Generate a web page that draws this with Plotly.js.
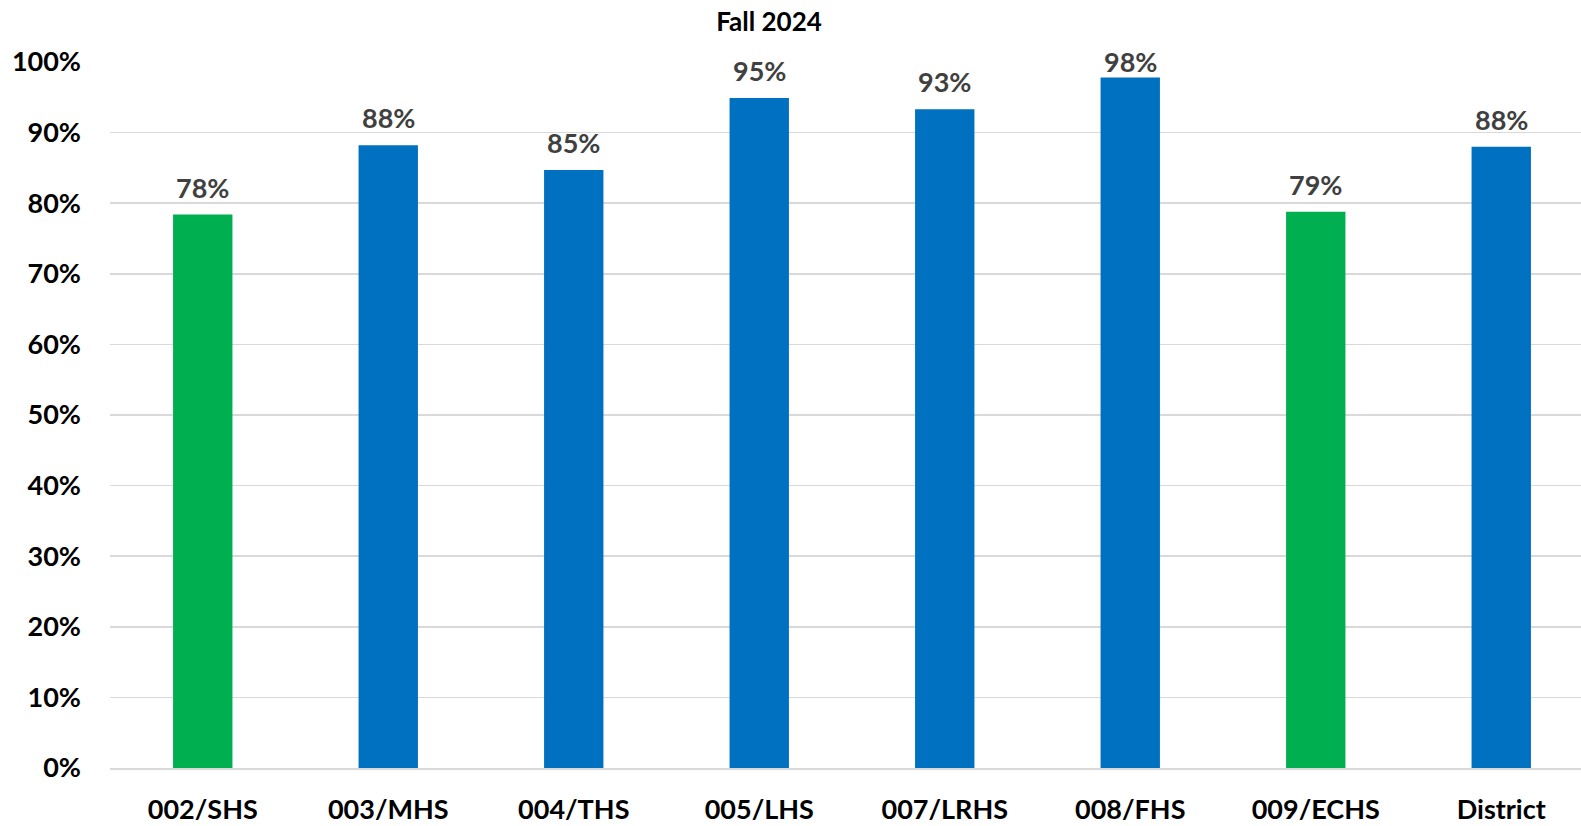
<!DOCTYPE html>
<html>
<head>
<meta charset="utf-8">
<script src="https://cdn.plot.ly/plotly-3.0.1.min.js"></script>
<style>
html,body{margin:0;padding:0;background:#fff;overflow:hidden;}
#wrap{width:1581px;height:826px;overflow:hidden;}
#chart{width:1596px;height:826px;}
</style>
</head>
<body>
<div id="wrap"><div id="chart"></div></div>
<script>
const categories = ["002/SHS","003/MHS","004/THS","005/LHS","007/LRHS","008/FHS","009/ECHS","District"];
const values = [78.4, 88.2, 84.7, 94.9, 93.3, 97.8, 78.8, 88.0];
const labels = ["78%","88%","85%","95%","93%","98%","79%","88%"];
const barColors = ["#00B050","#0070C0","#0070C0","#0070C0","#0070C0","#0070C0","#00B050","#0070C0"];
const yTickVals = [0,10,20,30,40,50,60,70,80,90,100];
const yTickText = ["0%","10%","20%","30%","40%","50%","60%","70%","80%","90%","100%"];

const FONT = "Lato, 'Open Sans', sans-serif";
const MARGIN = {l: 110, r: 2, t: 62, b: 58};
const HEIGHT = 826;
const plotH = HEIGHT - MARGIN.t - MARGIN.b;

const trace = {
  type: "bar",
  x: categories,
  y: values,
  marker: {color: barColors},
  hoverinfo: "x+y"
};

// Labels sit above bars, but (like the source) are kept from rising above the chart area top
const annotations = categories.map((c, i) => ({
  x: c, y: values[i], xref: "x", yref: "y",
  text: "<b>" + labels[i] + "</b>",
  showarrow: false,
  yanchor: "bottom",
  yshift: Math.min(9, (100 - values[i]) * plotH / 100 - 18),
  font: {family: FONT, size: 27, color: "#404040"}
}));

const layout = {
  width: 1596,
  height: HEIGHT,
  paper_bgcolor: "#ffffff",
  plot_bgcolor: "#ffffff",
  margin: MARGIN,
  bargap: 0.68,
  showlegend: false,
  annotations: annotations,
  title: {
    text: "<b>Fall 2024</b>",
    font: {family: FONT, size: 26, color: "#000000"},
    x: 769/1596, xref: "container", xanchor: "center",
    y: 1 - 22/826, yref: "container", yanchor: "middle"
  },
  xaxis: {
    type: "category",
    showgrid: false,
    showline: true,
    linecolor: "#D9D9D9",
    linewidth: 1.5,
    ticks: "",
    tickfont: {family: FONT, size: 27, color: "#000000", weight: 700},
    ticklabelstandoff: 17
  },
  yaxis: {
    range: [0, 100],
    tickvals: yTickVals,
    ticktext: yTickText,
    showgrid: true,
    gridcolor: "#D9D9D9",
    gridwidth: 1.5,
    zeroline: false,
    showline: false,
    ticks: "",
    tickfont: {family: FONT, size: 27, color: "#000000", weight: 700},
    ticklabelstandoff: 28
  }
};

Plotly.newPlot("chart", [trace], layout, {displayModeBar: false, staticPlot: true});
</script>
</body>
</html>
